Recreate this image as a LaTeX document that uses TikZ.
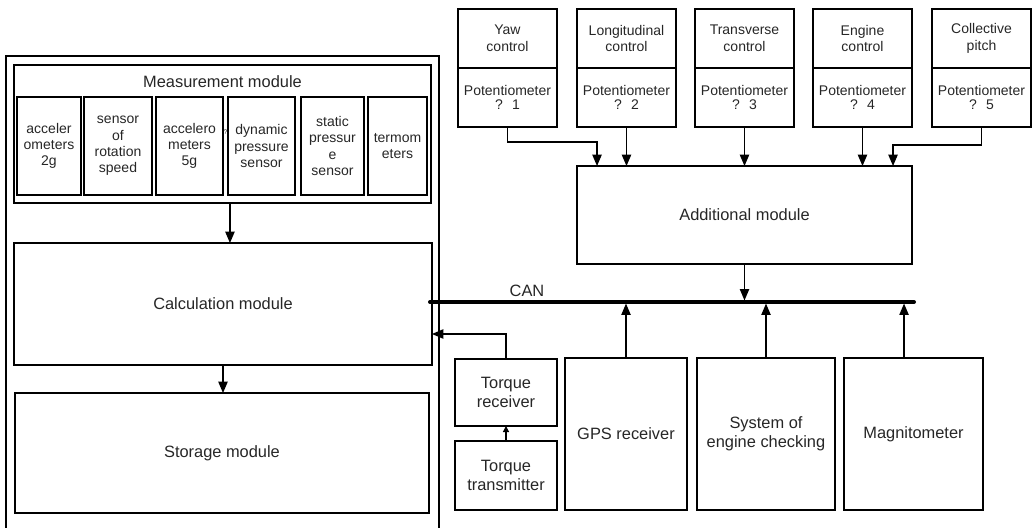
\documentclass[tikz,border=0pt]{standalone}
\usepackage{fontspec}
\setmainfont{Liberation Sans}
\usetikzlibrary{arrows.meta,positioning}

\tikzset{
  blk/.style={draw, line width=0.9pt, align=center, inner sep=1pt, outer sep=0pt,
              anchor=north west, text=black!85, font=\fontsize{12.3}{14.3}\selectfont},
  txt/.style={text=black!85, inner sep=0pt, font=\fontsize{12.3}{14.3}\selectfont},
  sens/.style={blk, minimum height=73.5pt, font=\fontsize{10.5}{12.2}\selectfont},
  ctrl/.style={blk, minimum width=74.25pt, minimum height=44.25pt, font=\fontsize{10.5}{12.6}\selectfont},
  pot/.style={ctrl, anchor=north},
  arr/.style={line width=0.9pt, -{Triangle[length=8.5pt,width=7pt]}},
  arrsmall/.style={line width=0.9pt, -{Triangle[length=4.5pt,width=4.5pt]}},
  bus/.style={line width=3pt, line cap=round},
}

\begin{document}
\begin{tikzpicture}[x=0.75pt, y=-0.75pt]
    \useasboundingbox (0,0) rectangle (1033,528);

    % Outer frame of the on-board unit (open at the bottom)
    \draw[line width=0.9pt] (6,540) -- (6,56) -- (439,56) -- (439,540);

    % Measurement module with its sensors
    \node[blk, minimum width=312.75pt, minimum height=103.5pt] (meas) at (14,65) {};
    \node[txt] (meastitle) at ([yshift=-12.75pt]meas.north) {Measurement module};
    \node[sens, minimum width=48pt] (acc2) at (17,97) {acceler\\ometers\\2g};
    \node[sens, minimum width=51pt] (rot) at (84,97) {sensor\\of\\rotation\\speed};
    \node[sens, minimum width=50.25pt] (acc5) at (156,97) {accelero\\meters\\5g};
    \node[sens, minimum width=50.25pt] (dyn) at (228,97) {dynamic\\pressure\\sensor};
    \node[sens, minimum width=47.25pt] (stat) at (301,97) {static\\pressur\\e\\sensor};
    \node[sens, minimum width=44.25pt] (term) at (368,97) {termom\\eters};
    \node[txt, font=\fontsize{5}{5}\selectfont] (qmark) at (225.5,132) {?};

    % Calculation and storage
    \node[blk, minimum width=313.5pt, minimum height=91.5pt] (calc) at (14,243) {Calculation module};
    \node[blk, minimum width=310.5pt, minimum height=90pt] (stor) at (15,393) {Storage module};

    \draw[arr] ([xshift=5.6pt]meas.south) -- ([xshift=5.6pt]meas.south |- calc.north);
    \draw[arr] (calc.south) -- (calc.south |- stor.north);

    % Control channels with potentiometers
    \node[ctrl] (yawtop) at (458,9) {Yaw\\control};
    \node[pot, below=0pt of yawtop] (yaw) {Potentiometer\\[-2.5pt]? ~1};
    \node[ctrl] (lontop) at (577,9) {Longitudinal\\control};
    \node[pot, below=0pt of lontop] (lon) {Potentiometer\\[-2.5pt]? ~2};
    \node[ctrl] (tratop) at (695,9) {Transverse\\control};
    \node[pot, below=0pt of tratop] (tra) {Potentiometer\\[-2.5pt]? ~3};
    \node[ctrl] (engtop) at (813,9) {Engine\\control};
    \node[pot, below=0pt of engtop] (eng) {Potentiometer\\[-2.5pt]? ~4};
    \node[ctrl] (coltop) at (932,9) {Collective\\pitch};
    \node[pot, below=0pt of coltop] (col) {Potentiometer\\[-2.5pt]? ~5};

    \node[blk, minimum width=251.25pt, minimum height=73.5pt] (add) at (577,166) {Additional module};

    \draw[arr] (yaw.south) -- ++(0,15) -| ([xshift=-110.6pt]add.north);
    \draw[arr] (lon.south) -- (lon.south |- add.north);
    \draw[arr] (tra.south) -- (tra.south |- add.north);
    \draw[arr] (eng.south) -- (eng.south |- add.north);
    \draw[arr] (col.south) -- ++(0,18) -| ([xshift=111.4pt]add.north);

    % CAN bus
    \coordinate (canL) at (430,302);
    \coordinate (canR) at (914,302);
    \draw[bus] (canL) -- (canR);
    \node[txt] (canlbl) at (527,291) {CAN};

    % Devices on the bus
    \node[blk, minimum width=76.5pt, minimum height=50.25pt] (trqrx) at (455,359) {Torque\\receiver};
    \node[blk, minimum width=76.5pt, minimum height=51.75pt] (trqtx) at (455,441) {Torque\\transmitter};
    \node[blk, minimum width=91.5pt, minimum height=114pt] (gps) at (565,358) {GPS receiver};
    \node[blk, minimum width=103.5pt, minimum height=114pt] (eck) at (697,358) {System of\\engine checking};
    \node[blk, minimum width=104.25pt, minimum height=114pt] (mag) at (844,358) {Magnitometer};

    \draw[arr, shorten >=1.2pt] (add.south) -- (add.south |- canL);
    \draw[arr, shorten >=1.2pt] (gps.north) -- (gps.north |- canL);
    \draw[arr, shorten >=1.2pt] (eck.north) -- (eck.north |- canL);
    \draw[arr, shorten >=1.2pt] ([xshift=-7.1pt]mag.north) -- ([xshift=-7.1pt]mag.north |- canL);

    \draw[arrsmall] (trqtx.north) -- (trqrx.south);
    \draw[arr] (trqrx.north) |- ([yshift=-22.5pt]calc.east);
\end{tikzpicture}
\end{document}
